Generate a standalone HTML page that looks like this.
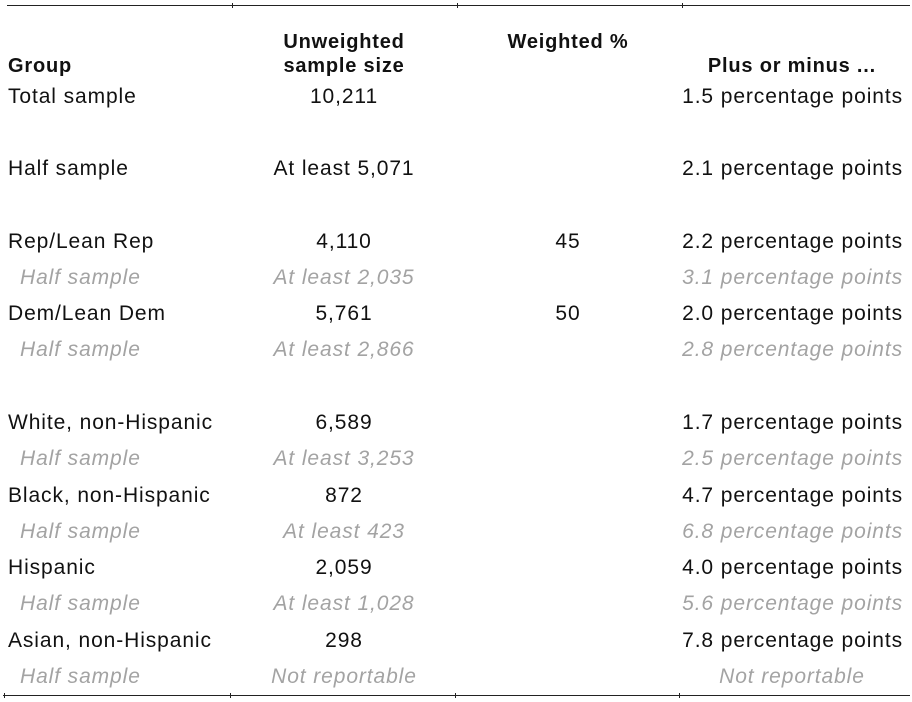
<!DOCTYPE html>
<html><head><meta charset="utf-8"><style>
body{margin:0;width:912px;height:702px;background:#fff;font-family:"Liberation Sans",sans-serif;color:#111;position:relative;overflow:hidden}
.t{position:absolute;font-size:21px;line-height:24px;white-space:nowrap;letter-spacing:0.9px}
.h{font-weight:bold;font-size:20px;line-height:24px;letter-spacing:0.8px}
.g{color:#a3a3a3;font-style:italic}
.c{transform:translateX(-50%)}
.r{transform:translateX(-100%)}
.line{position:absolute;height:1px;background:#222}
.tick{position:absolute;width:1px;height:5px;background:#222}
</style></head><body>
<div class="line" style="left:7px;top:5px;width:903px"></div>
<div class="tick" style="left:232px;top:3px"></div>
<div class="tick" style="left:457px;top:3px"></div>
<div class="tick" style="left:682px;top:3px"></div>
<div class="line" style="left:3px;top:695px;width:907px"></div>
<div class="tick" style="left:4px;top:693px"></div>
<div class="tick" style="left:230px;top:693px"></div>
<div class="tick" style="left:455px;top:693px"></div>
<div class="tick" style="left:679px;top:693px"></div>

<div class="t h" style="left:8px;top:54px">Group</div>
<div class="t h c" style="left:344px;top:30px;text-align:center">Unweighted<br>sample size</div>
<div class="t h c" style="left:568px;top:30px">Weighted %</div>
<div class="t h r" style="left:876px;top:54px">Plus or minus ...</div>

<div id="rows"></div>
<script>
const groups=["Total sample","Half sample","Rep/Lean Rep","Half sample","Dem/Lean Dem","Half sample","White, non-Hispanic","Half sample","Black, non-Hispanic","Half sample","Hispanic","Half sample","Asian, non-Hispanic","Half sample"];
const sizes=["10,211","At least 5,071","4,110","At least 2,035","5,761","At least 2,866","6,589","At least 3,253","872","At least 423","2,059","At least 1,028","298","Not reportable"];
const weighted=["","","45","","50","","","","","","","","",""];
const margins=["1.5 percentage points","2.1 percentage points","2.2 percentage points","3.1 percentage points","2.0 percentage points","2.8 percentage points","1.7 percentage points","2.5 percentage points","4.7 percentage points","6.8 percentage points","4.0 percentage points","5.6 percentage points","7.8 percentage points","Not reportable"];
const sub=[0,0,0,1,0,1,0,1,0,1,0,1,0,1];
const ys=[97,169,242,278,314,350,423,459,496,532,568,604,641,677];
const root=document.getElementById('rows');
function mk(txt,cls,left,y,name){
 const d=document.createElement('div');
 d.className='t '+cls;d.textContent=txt;d.style.left=left+'px';d.style.top=(y-12)+'px';
 
 
 root.appendChild(d);
}
groups.forEach((g,i)=>{
 const gc=sub[i]?' g':'';
 mk(g,gc,sub[i]?20:8,ys[i],'group-label');
 mk(sizes[i],'c'+gc,344,ys[i],'sample-size');
 if(weighted[i])mk(weighted[i],'c',568,ys[i],'weighted-pct');
 if(margins[i]==='Not reportable')mk(margins[i],'c g',792,ys[i],'margin-of-error');
 else mk(margins[i],'r'+gc,903,ys[i],'margin-of-error');
});
</script>
</body></html>
